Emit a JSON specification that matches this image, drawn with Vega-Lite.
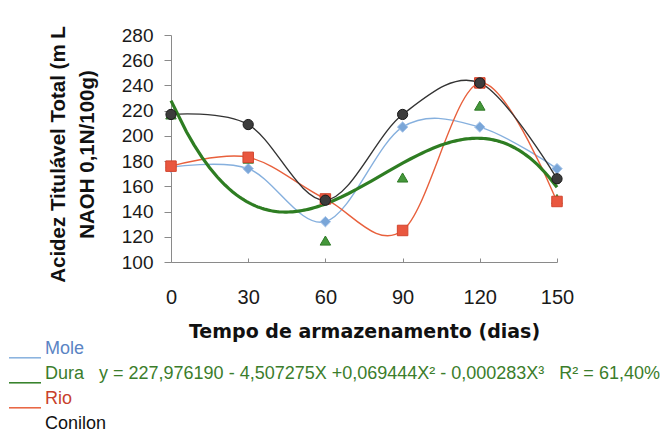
{
  "$schema": "https://vega.github.io/schema/vega-lite/v6.json",
  "width": 386,
  "height": 227,
  "autosize": "none",
  "padding": {"left": 171, "top": 35, "right": 107, "bottom": 169},
  "background": "white",
  "config": {
    "view": {"stroke": null},
    "font": "Liberation Sans",
    "axis": {"grid": false, "domainColor": "#8a8a8a", "tickColor": "#8a8a8a", "labelColor": "#1a1a1a", "titleColor": "#111111", "labelFont": "Liberation Sans", "titleFont": "Liberation Sans"}
  },
  "data": {
    "values": [
      {"dias": 0, "valor": 175, "serie": "Mole"},
      {"dias": 30, "valor": 174, "serie": "Mole"},
      {"dias": 60, "valor": 132, "serie": "Mole"},
      {"dias": 90, "valor": 207, "serie": "Mole"},
      {"dias": 120, "valor": 207, "serie": "Mole"},
      {"dias": 150, "valor": 174, "serie": "Mole"},
      {"dias": 0, "valor": 217, "serie": "Dura"},
      {"dias": 30, "valor": 182, "serie": "Dura"},
      {"dias": 60, "valor": 117, "serie": "Dura"},
      {"dias": 90, "valor": 167, "serie": "Dura"},
      {"dias": 120, "valor": 224, "serie": "Dura"},
      {"dias": 150, "valor": 150, "serie": "Dura"},
      {"dias": 0, "valor": 176, "serie": "Rio"},
      {"dias": 30, "valor": 183, "serie": "Rio"},
      {"dias": 60, "valor": 150, "serie": "Rio"},
      {"dias": 90, "valor": 125, "serie": "Rio"},
      {"dias": 120, "valor": 242, "serie": "Rio"},
      {"dias": 150, "valor": 148, "serie": "Rio"},
      {"dias": 0, "valor": 217, "serie": "Conilon"},
      {"dias": 30, "valor": 209, "serie": "Conilon"},
      {"dias": 60, "valor": 149, "serie": "Conilon"},
      {"dias": 90, "valor": 217, "serie": "Conilon"},
      {"dias": 120, "valor": 242, "serie": "Conilon"},
      {"dias": 150, "valor": 166, "serie": "Conilon"}
    ]
  },
  "encoding": {
    "x": {
      "field": "dias", "type": "quantitative",
      "scale": {"domain": [0, 150], "nice": false, "zero": false},
      "axis": {
        "values": [0, 30, 60, 90, 120, 150],
        "title": "Tempo de armazenamento (dias)",
        "titleFont": "DejaVu Sans", "titleFontSize": 19, "titleFontWeight": "bold", "titlePadding": 15,
        "labelFontSize": 20, "labelPadding": 29, "tickSize": -4,
        "labelFlush": false
      }
    },
    "y": {
      "field": "valor", "type": "quantitative",
      "scale": {"domain": [100, 280], "nice": false, "zero": false},
      "axis": {
        "values": [100, 120, 140, 160, 180, 200, 220, 240, 260, 280],
        "title": ["Acidez Titulável Total (m L", "NAOH 0,1N/100g)"],
        "titleFontSize": 20.5, "titleFontWeight": "bold", "titleLineHeight": 29,
        "titlePadding": 24, "titleY": 119,
        "labelFontSize": 19, "labelPadding": 11, "tickSize": 7,
        "labelFlush": false
      }
    }
  },
  "layer": [
    {
      "transform": [{"filter": "datum.serie != 'Dura'"}],
      "mark": {"type": "line", "interpolate": "cardinal", "strokeWidth": 1.4},
      "encoding": {
        "color": {
          "field": "serie", "type": "nominal",
          "scale": {"domain": ["Mole", "Dura", "Rio", "Conilon"], "range": ["#86b0de", "#2e7d22", "#e8603c", "#333333"]},
          "legend": {
            "orient": "none", "legendX": -147, "legendY": 305,
            "direction": "vertical", "title": null, "padding": 0,
            "rowPadding": 4, "labelFontSize": 18, "labelFont": "Liberation Sans",
            "labelLimit": 700, "labelOffset": 3,
            "symbolType": "M-3,1.1H1", "symbolSize": 256, "symbolStrokeWidth": 1.5,
            "labelExpr": "datum.label == 'Dura' ? 'Dura\u00a0\u00a0\u00a0y = 227,976190 - 4,507275X +0,069444X² - 0,000283X³\u00a0\u00a0\u00a0R² = 61,40%' : datum.label",
            "encode": {
              "labels": {"update": {"fill": {"signal": "datum.value == 'Mole' ? '#5b84c4' : datum.value == 'Dura' ? '#3b7d2b' : datum.value == 'Rio' ? '#c8412c' : '#111111'"}}},
              "symbols": {"update": {"fill": {"value": "transparent"}, "stroke": {"signal": "datum.value == 'Mole' ? '#7d98c8' : datum.value == 'Dura' ? '#3b7d2b' : datum.value == 'Rio' ? '#c8412c' : '#111111'"}}}
            }
          }
        }
      }
    },
    {
      "transform": [
        {"filter": "datum.serie == 'Dura'"},
        {"regression": "valor", "on": "dias", "method": "poly", "order": 3, "extent": [0, 150]}
      ],
      "mark": {"type": "line", "strokeWidth": 3.2, "color": "#2e7d22"},
      "encoding": {}
    },
    {
      "transform": [{"filter": "datum.serie == 'Mole'"}],
      "mark": {"type": "point", "shape": "diamond", "filled": true, "opacity": 1, "size": 110, "fill": "#7aa6d8", "stroke": "#a9c6ea", "strokeWidth": 1},
      "encoding": {}
    },
    {
      "transform": [{"filter": "datum.serie == 'Dura'"}],
      "mark": {"type": "point", "shape": "triangle-up", "filled": true, "opacity": 1, "size": 110, "fill": "#44973a", "stroke": "#2f7a27", "strokeWidth": 1},
      "encoding": {}
    },
    {
      "transform": [{"filter": "datum.serie == 'Rio'"}],
      "mark": {"type": "point", "shape": "square", "filled": true, "opacity": 1, "size": 110, "fill": "#e9573f", "stroke": "#d2452e", "strokeWidth": 1},
      "encoding": {}
    },
    {
      "transform": [{"filter": "datum.serie == 'Conilon'"}],
      "mark": {"type": "point", "shape": "circle", "filled": true, "opacity": 1, "size": 105, "fill": "#3c3c3c", "stroke": "#1a1a1a", "strokeWidth": 1},
      "encoding": {}
    }
  ]
}
